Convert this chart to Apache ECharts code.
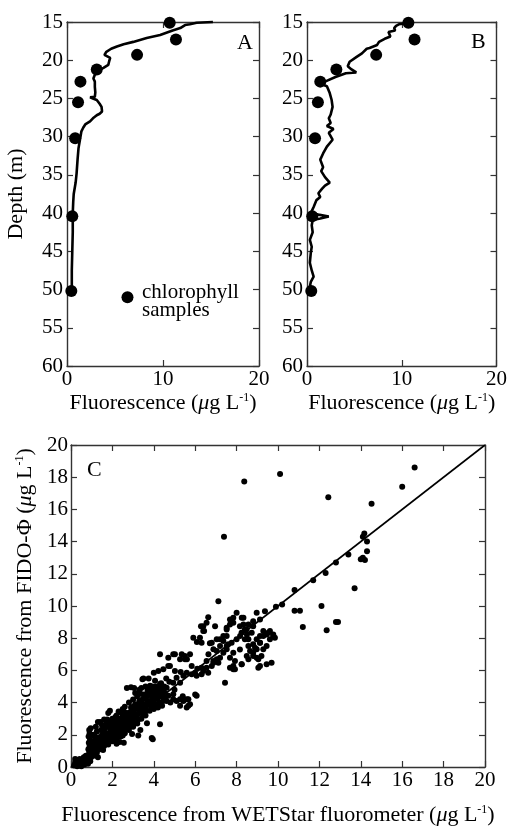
<!DOCTYPE html>
<html>
<head>
<meta charset="utf-8">
<script src="https://cdn.jsdelivr.net/npm/echarts@6/dist/echarts.min.js"></script>
<style>
html,body{margin:0;padding:0;background:#fff;}
#chart{width:510px;height:827px;}
</style>
</head>
<body>
<div id="chart"></div>
<script>
// ---------- DATA ----------
// Panel A profile: [fluorescence, depth]
const profileA = [[15.2,15.0],[13.5,15.1],[12.8,15.3],[12.3,15.4],[11.8,15.8],[11.0,16.1],[9.7,16.7],[8.3,17.1],[6.9,17.6],[5.9,17.9],[5.2,18.2],[4.6,18.5],[4.1,18.9],[3.9,19.3],[4.1,19.5],[4.5,19.7],[4.4,20.1],[4.3,20.6],[3.8,21.0],[3.5,21.2],[3.2,21.5],[2.9,21.9],[2.75,22.4],[2.9,22.8],[2.9,23.5],[2.95,24.2],[2.9,24.8],[2.4,24.85],[2.7,25.0],[3.1,25.2],[3.4,25.7],[3.6,26.1],[3.65,26.7],[3.4,27.0],[3.1,27.2],[2.7,27.6],[2.4,28.0],[1.9,28.4],[1.7,28.8],[1.5,29.3],[1.35,30.4],[1.2,31.5],[1.1,33.0],[1.0,34.8],[0.9,36.0],[0.7,37.5],[0.65,38.5],[0.6,40.0],[0.6,42.5],[0.55,45.0],[0.5,47.5],[0.5,50.1]];
// Panel B profile: [fluorescence, depth]
const profileB = [[10.7,15.2],[10.3,15.2],[9.7,15.3],[9.4,15.5],[9.2,15.8],[9.3,16.1],[8.6,16.3],[8.4,16.5],[8.8,16.9],[8.2,17.2],[7.9,17.4],[7.6,17.6],[7.4,18.0],[7.3,18.2],[6.6,18.4],[6.3,18.5],[5.8,19.1],[5.2,19.6],[4.5,20.2],[4.3,20.8],[4.7,21.2],[5.2,21.6],[4.1,21.7],[3.0,22.2],[1.9,22.8],[1.7,23.2],[2.1,23.4],[2.4,24.3],[2.6,25.2],[2.7,26.1],[2.5,27.1],[2.3,27.6],[2.5,28.2],[2.1,28.6],[2.8,29.0],[2.3,29.5],[2.7,30.4],[2.1,31.3],[1.7,32.2],[1.4,33.0],[1.7,34.0],[1.5,34.5],[1.9,35.3],[2.4,36.0],[1.9,36.4],[1.6,36.8],[1.2,37.4],[1.4,37.9],[1.0,38.3],[0.7,39.2],[0.4,40.0],[1.2,40.2],[2.3,40.45],[1.4,40.7],[0.6,40.9],[0.5,41.6],[0.6,42.5],[0.3,43.5],[0.5,44.4],[0.4,45.2],[0.3,46.5],[0.5,47.5],[0.7,48.3],[0.4,49.0],[0.3,49.6],[0.35,50.1]];
// Chlorophyll samples: [fluorescence, depth]
const samples = [[10.7,15.1],[11.35,17.3],[7.3,19.3],[3.1,21.2],[1.4,22.8],[1.15,25.5],[0.85,30.2],[0.55,40.4],[0.45,50.2]];
const legendDot = [[6.3,51.0]];
// Panel C scatter: [WETStar, FIDO]
const scatterC = [
[0.15,0.1],[0.2,0.3],[0.25,0.45],[0.3,0.2],[0.35,0.35],[0.4,0.1],[0.45,0.3],[0.5,0.45],[0.55,0.2],[0.6,0.35],[0.65,0.15],[0.7,0.4],[0.75,0.25],[0.3,0.05],[0.5,0.05],[0.68,0.5],[0.2,0.5],[0.42,0.5],[0.62,0.6],[0.72,0.7],
[0.82,0.2],[0.85,0.45],[0.8,0.7],[0.88,0.9],[0.84,1.1],[0.9,1.3],[0.86,1.5],[0.92,1.7],[0.85,1.9],[0.9,2.1],[0.88,2.3],[0.95,2.4],[0.97,0.6],[1.0,1.0],[0.95,1.2],[1.0,1.6],[0.98,2.0],[0.93,0.35],
[1.1,0.7],[1.15,1.0],[1.1,1.3],[1.2,1.6],[1.15,1.9],[1.25,2.2],[1.2,2.5],[1.3,2.8],[1.3,1.2],[1.25,0.9],[1.3,1.5],[1.1,2.0],
[1.4,1.1],[1.45,1.4],[1.4,1.7],[1.5,2.0],[1.45,2.3],[1.5,2.6],[1.42,2.8],[1.5,1.25],
[1.6,1.3],[1.65,1.55],[1.6,1.8],[1.7,2.1],[1.65,2.4],[1.7,2.7],[1.6,2.95],[1.72,1.5],
[1.8,1.4],[1.85,1.7],[1.8,2.0],[1.9,2.25],[1.85,2.5],[1.9,2.8],[1.8,3.35],[1.88,3.5],[1.9,1.9],
[2.0,1.6],[2.05,1.85],[2.0,2.1],[2.1,2.35],[2.05,2.6],[2.1,2.85],[2.0,3.0],[2.1,1.7],
[2.2,1.75],[2.25,2.0],[2.2,2.25],[2.3,2.5],[2.25,2.75],[2.3,3.0],[2.2,3.2],[2.3,3.45],[2.35,1.55],
[2.4,1.9],[2.45,2.15],[2.4,2.4],[2.5,2.65],[2.45,2.9],[2.5,3.15],[2.4,3.4],[2.5,3.6],[2.55,1.5],
[2.6,2.1],[2.65,2.35],[2.6,2.6],[2.7,2.85],[2.65,3.1],[2.7,3.35],[2.6,3.75],[2.7,4.9],[2.7,2.45],
[2.8,2.3],[2.85,2.6],[2.8,2.9],[2.9,3.15],[2.85,3.4],[2.9,3.7],[2.8,4.0],[2.9,4.95],[2.95,2.05],
[3.0,2.5],[3.05,2.75],[3.0,3.0],[3.1,3.3],[3.05,3.6],[3.1,3.9],[3.0,4.2],[3.05,4.9],[3.1,4.6],
[3.2,2.7],[3.25,2.95],[3.2,3.25],[3.3,3.5],[3.25,3.8],[3.3,4.1],[3.2,4.4],[3.3,4.8],[3.25,1.95],[3.35,2.3],
[3.4,3.0],[3.45,3.3],[3.4,3.6],[3.5,3.9],[3.45,4.2],[3.5,4.5],[3.4,4.9],[3.45,5.45],[3.5,5.5],[3.5,3.5],
[3.6,3.2],[3.65,3.5],[3.6,3.8],[3.7,4.1],[3.65,4.4],[3.7,4.7],[3.6,5.0],[3.67,2.72],[3.75,5.5],
[3.8,3.5],[3.85,3.8],[3.8,4.1],[3.9,4.4],[3.85,4.7],[3.9,5.0],[3.95,1.73],[3.9,1.8],[3.82,5.04],
[4.0,3.6],[4.05,3.9],[4.0,4.2],[4.1,4.5],[4.05,4.8],[4.1,5.0],[4.0,5.85],[4.06,5.35],
[4.2,3.7],[4.25,4.0],[4.2,4.3],[4.3,4.6],[4.25,4.9],[4.3,5.15],[4.22,5.96],[4.3,2.66],[4.3,7.0],
[4.4,3.8],[4.45,4.1],[4.4,4.4],[4.5,4.65],[4.46,6.07],[4.46,4.31],[4.5,5.0],
[4.62,4.1],[4.62,4.93],[4.7,4.42],[4.7,6.27],[4.7,6.79],[4.78,6.27],[4.6,5.5],[4.75,5.3],[4.8,4.0],
[4.94,4.21],[4.94,4.52],[4.94,5.24],[4.94,7.0],[5.02,5.96],[5.02,7.0],[5.1,5.55],[5.1,4.1],[5.0,4.8],
[5.27,4.21],[5.27,3.8],[5.27,5.24],[5.27,6.69],[5.35,7.0],[5.43,5.66],[5.43,4.1],[5.3,5.9],[5.4,4.4],
[5.5,6.9],[5.51,6.69],[5.59,5.86],[5.59,3.69],[5.6,4.21],[5.67,3.8],[5.67,4.21],[5.6,6.7],[5.75,3.9],[5.75,7.0],
[5.83,5.76],[5.83,6.27],[5.99,5.86],[6.07,4.42],[6.0,4.5],[5.91,8.03],[6.08,7.76],[6.1,6.1],
[1.05,0.85],[1.18,1.45],[1.35,1.85],[1.55,1.55],[1.58,2.2],[1.75,1.8],[1.95,2.45],[2.15,2.0],[2.12,2.65],[2.35,2.2],[2.38,2.9],[2.55,2.4],
[2.58,3.0],[2.75,2.65],[2.78,3.2],[2.95,2.85],[2.98,3.45],[3.15,3.1],[3.18,3.65],[3.35,3.4],[3.38,3.95],[3.55,3.65],[3.58,4.25],[3.75,3.9],
[3.78,4.5],[3.95,4.05],[3.98,4.6],[4.15,4.25],[4.18,4.75],[4.35,4.45],[4.38,4.85],[4.55,4.3],[4.15,3.85],[3.92,3.7],[2.5,1.95],[2.2,1.45],
[1.55,1.05],[1.3,0.6],[1.75,2.95],[2.15,3.1],[2.55,3.45],[3.0,3.75],[3.35,4.55],[3.7,4.85],[4.0,4.95],[4.35,5.2],
[6.07,5.66],[6.31,5.76],[6.39,5.96],[6.55,6.17],[6.8,6.27],[6.88,6.58],[7.04,6.69],[7.2,6.79],[6.55,6.58],[6.64,7.0],[6.63,5.86],[6.3,6.17],
[6.23,8.03],[6.31,7.72],[6.39,8.44],[6.39,8.75],[6.55,8.96],[6.63,9.3],[6.28,8.75],[6.43,8.44],[6.71,7.68],[6.96,8.75],[7.12,10.3],
[7.52,8.54],[7.68,8.85],[7.84,9.27],[8.0,9.58],[8.25,9.27],[8.33,8.85],[8.4,8.54],[8.5,8.23],[8.17,8.13],[8.57,7.93],[8.8,7.62],[8.97,7.93],
[9.13,8.13],[9.29,8.44],[9.45,8.23],[9.61,8.44],[9.77,8.23],[9.85,8.03],[9.13,7.72],[8.89,7.41],[8.65,7.2],[8.49,6.89],[8.8,6.89],[9.05,6.69],
[9.13,6.27],[9.45,6.38],[9.69,6.48],[8.25,6.38],[7.92,6.07],[7.84,6.27],[7.44,5.24],[7.36,7.1],[7.52,7.31],[7.6,7.62],[7.36,7.82],[7.2,7.51],
[7.04,7.2],[7.52,8.13],[7.04,7.93],[6.8,7.72],[6.88,7.31],[7.2,7.93],[7.36,8.13],[7.52,8.65],[7.68,9.16],[7.84,8.96],[8.16,8.75],[8.33,9.27],
[8.57,8.85],[8.8,9.06],[8.97,9.58],[8.73,8.34],[8.4,7.93],[8.57,7.51],[8.8,7.1],[8.16,7.3],[7.84,7.1],[7.68,6.17],[7.84,6.07],[8.24,6.38],
[8.57,6.69],[8.97,6.79],[9.05,6.17],[9.29,8.13],[9.53,8.34],[9.77,8.13],[9.45,7.51],[9.13,7.72],[9.29,7.31],[9.61,7.93],[8.97,7.31],[9.2,6.9],
[7.68,6.79],[7.92,6.58],[7.52,7.51],[7.76,7.72],[8.0,7.93],[8.24,8.34],[8.48,8.54],[8.8,8.75],[9.13,9.16],[9.37,9.68],[7.12,6.48],[6.88,6.48],
[8.37,17.73],[10.1,18.2],[16.6,18.6],[16.0,17.4],[12.43,16.76],[14.52,16.35],[7.39,14.3],
[14.17,14.5],[14.1,14.3],[14.3,14.0],[14.3,13.4],[14.1,13.0],[14.2,12.85],[14.0,12.9],[13.4,13.2],[12.8,12.7],[12.3,12.05],[11.7,11.6],[10.8,11.0],
[13.7,11.1],[12.1,10.0],[10.8,9.7],[11.06,9.7],[11.2,8.7],[12.35,8.5],[12.8,9.0],[12.9,9.0],[10.2,10.1],[9.9,9.95]
];
// 1:1 line
const fitLine = [[0,0],[20,20]];

// ---------- CHART ----------
const FONT = '"Liberation Serif","Times New Roman",serif';
const chart = echarts.init(document.getElementById('chart'));

function axisBase(extra){
  return Object.assign({
    type:'value',
    splitLine:{show:false},
    axisLine:{show:true,onZero:false,lineStyle:{color:'#333',width:1.4}},
    axisTick:{show:true,inside:true,length:6,lineStyle:{color:'#333',width:1.2}},
    axisLabel:{show:false}
  }, extra);
}
const tickLabel = (m)=>({show:true,color:'#000',fontFamily:FONT,fontSize:21,margin:m});
const richName = {
  i:{fontStyle:'italic',fontFamily:FONT,fontSize:22,color:'#000'},
  s:{fontFamily:FONT,fontSize:12,color:'#000',verticalAlign:'top'}
};
const nameStyle = {fontFamily:FONT,fontSize:22,color:'#000',rich:richName};
const dotStyle = {color:'#000',opacity:1};

const option = {
  animation:false,
  backgroundColor:'#fff',
  grid:[
    {left:67,top:22,width:192,height:344},
    {left:307,top:22,width:191,height:344},
    {left:71,top:445,width:414,height:323}
  ],
  xAxis:[
    axisBase({gridIndex:0,position:'bottom',min:0,max:20,interval:10,axisLabel:tickLabel(3),
      name:'Fluorescence ({i|μ}g L{s|-1})',nameLocation:'middle',nameGap:26,nameTextStyle:nameStyle}),
    axisBase({gridIndex:0,position:'top',min:0,max:20,interval:10}),
    axisBase({gridIndex:1,position:'bottom',min:0,max:20,interval:10,axisLabel:tickLabel(3),
      name:'Fluorescence ({i|μ}g L{s|-1})',nameLocation:'middle',nameGap:26,nameTextStyle:nameStyle}),
    axisBase({gridIndex:1,position:'top',min:0,max:20,interval:10}),
    axisBase({gridIndex:2,position:'bottom',min:0,max:20,interval:2,axisLabel:tickLabel(3),
      name:'Fluorescence from WETStar fluorometer ({i|μ}g L{s|-1})',nameLocation:'middle',nameGap:37,nameTextStyle:nameStyle}),
    axisBase({gridIndex:2,position:'top',min:0,max:20,interval:2})
  ],
  yAxis:[
    axisBase({gridIndex:0,position:'left',inverse:true,min:15,max:60,interval:5,axisLabel:tickLabel(4),
      name:'Depth (m)',nameLocation:'middle',nameGap:40,nameTextStyle:nameStyle}),
    axisBase({gridIndex:0,position:'right',inverse:true,min:15,max:60,interval:5}),
    axisBase({gridIndex:1,position:'left',inverse:true,min:15,max:60,interval:5,axisLabel:tickLabel(4)}),
    axisBase({gridIndex:1,position:'right',inverse:true,min:15,max:60,interval:5}),
    axisBase({gridIndex:2,position:'left',min:0,max:20,interval:2,axisLabel:tickLabel(3),
      name:'Fluorescence from FIDO-Φ ({i|μ}g L{s|-1})',nameLocation:'middle',nameGap:34,nameTextStyle:nameStyle}),
    axisBase({gridIndex:2,position:'right',min:0,max:20,interval:2})
  ],
  series:[
    {type:'line',xAxisIndex:0,yAxisIndex:0,data:profileA,showSymbol:false,symbol:'none',clip:false,
      lineStyle:{color:'#000',width:2.6},z:3},
    {type:'scatter',xAxisIndex:0,yAxisIndex:0,data:samples,symbolSize:12,itemStyle:dotStyle,z:4},
    {type:'scatter',xAxisIndex:0,yAxisIndex:0,data:legendDot,symbolSize:12,itemStyle:dotStyle,z:4},
    {type:'line',xAxisIndex:2,yAxisIndex:2,data:profileB,showSymbol:false,symbol:'none',clip:false,
      lineStyle:{color:'#000',width:2.6},z:3},
    {type:'scatter',xAxisIndex:2,yAxisIndex:2,data:samples,symbolSize:12,itemStyle:dotStyle,z:4},
    {type:'scatter',xAxisIndex:4,yAxisIndex:4,data:scatterC,symbolSize:6,itemStyle:dotStyle,z:4},
    {type:'line',xAxisIndex:4,yAxisIndex:4,data:fitLine,showSymbol:false,symbol:'none',
      lineStyle:{color:'#000',width:1.6},z:3}
  ],
  graphic:[
    {type:'text',left:237,top:32,style:{text:'A',fontFamily:FONT,fontSize:22,fill:'#000'}},
    {type:'text',left:471,top:31,style:{text:'B',fontFamily:FONT,fontSize:22,fill:'#000'}},
    {type:'text',left:87,top:459,style:{text:'C',fontFamily:FONT,fontSize:22,fill:'#000'}},
    {type:'text',left:142,top:282,style:{text:'chlorophyll\nsamples',fontFamily:FONT,fontSize:21,lineHeight:18,fill:'#000'}}
  ]
};
chart.setOption(option);
</script>
</body>
</html>
